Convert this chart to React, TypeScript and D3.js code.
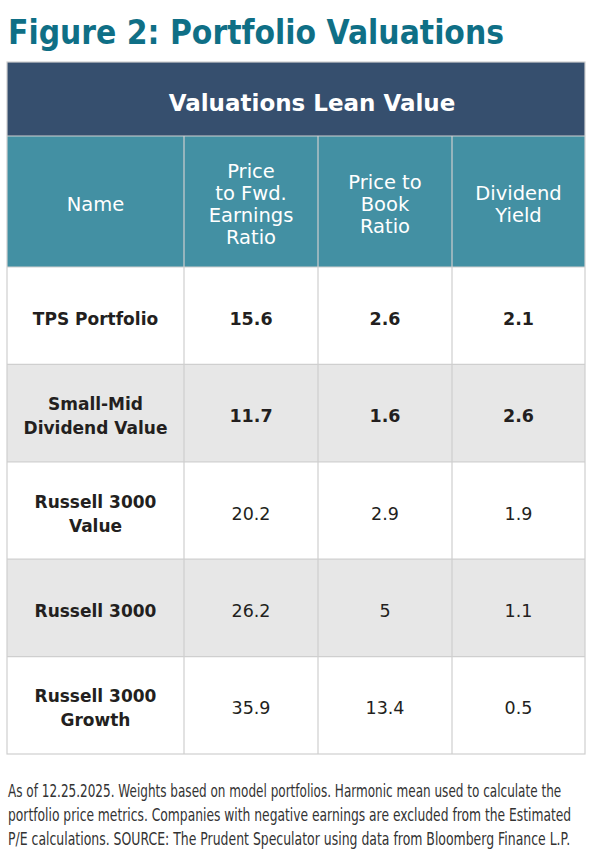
import React, { useLayoutEffect, useRef, useState } from "react";
import * as d3 from "d3";

const title = "Figure 2: Portfolio Valuations";
const tableTitle = "Valuations Lean Value";
const columnHeaders = [
  ["Name"],
  ["Price", "to Fwd.", "Earnings", "Ratio"],
  ["Price to", "Book", "Ratio"],
  ["Dividend", "Yield"],
];
const names = [
  ["TPS Portfolio"],
  ["Small-Mid", "Dividend Value"],
  ["Russell 3000", "Value"],
  ["Russell 3000"],
  ["Russell 3000", "Growth"],
];
const peRatio = ["15.6", "11.7", "20.2", "26.2", "35.9"];
const pbRatio = ["2.6", "1.6", "2.9", "5", "13.4"];
const divYield = ["2.1", "2.6", "1.9", "1.1", "0.5"];
const boldRows = [true, true, false, false, false];
const footnote = [
  "As of 12.25.2025. Weights based on model portfolios. Harmonic mean used to calculate the",
  "portfolio price metrics. Companies with negative earnings are excluded from the Estimated",
  "P/E calculations. SOURCE: The Prudent Speculator using data from Bloomberg Finance L.P.",
];
const footnoteWidths = [553, 563, 562];

const W = 592;
const H = 856;
const FONT = "'DejaVu Sans', 'Open Sans', sans-serif";
const colEdges = [7, 184, 318, 452, 585];
const tableTop = 62;
const darkBottom = 136;
const headBottom = 267;
const tableBottom = 754;
const border = "#cfcfcf";

export default function App() {
  const footRefs = useRef<(SVGTextElement | null)[]>([]);
  const [footScale, setFootScale] = useState<number[]>([0.6, 0.6, 0.6]);

  useLayoutEffect(() => {
    const s = footRefs.current.map((el, k) => {
      if (!el) return 0.6;
      const w = el.getComputedTextLength();
      return w > 0 ? footnoteWidths[k] / w : 0.6;
    });
    setFootScale(s);
  }, []);

  const rows = names.map((n, i) => ({
    name: n,
    values: [peRatio[i], pbRatio[i], divYield[i]],
    bold: boldRows[i],
    i,
  }));
  const y = d3
    .scaleBand<number>()
    .domain(rows.map((r) => r.i))
    .range([headBottom, tableBottom]);
  const colCenter = (c: number) => (colEdges[c] + colEdges[c + 1]) / 2;
  const headLine = 22;
  const headMid = (darkBottom + headBottom) / 2 + 2;

  return (
    <svg
      width={W}
      height={H}
      style={{ position: "absolute", left: 0, top: 0, background: "#fff" }}
    >
      <rect x={0} y={0} width={W} height={H} fill="#fff" />
      <text
        x={8}
        y={44}
        fontFamily={FONT}
        fontWeight={700}
        fontSize={33}
        fill="#0f6f86"
        textLength={496}
        lengthAdjust="spacingAndGlyphs"
      >
        {title}
      </text>

      {/* dark header */}
      <rect
        x={colEdges[0]}
        y={tableTop}
        width={colEdges[4] - colEdges[0]}
        height={darkBottom - tableTop}
        fill="#364f6e"
      />
      <text
        x={(colEdges[0] + colEdges[4]) / 2 + 16}
        y={111}
        textAnchor="middle"
        fontFamily={FONT}
        fontWeight={700}
        fontSize={23}
        fill="#fff"
      >
        {tableTitle}
      </text>

      {/* teal header */}
      <rect
        x={colEdges[0]}
        y={darkBottom}
        width={colEdges[4] - colEdges[0]}
        height={headBottom - darkBottom}
        fill="#4390a3"
      />
      {columnHeaders.map((lines, c) => (
        <text
          key={c}
          textAnchor="middle"
          fontFamily={FONT}
          fontSize={19.5}
          fill="#fff"
        >
          {lines.map((l, k) => (
            <tspan
              key={k}
              x={colCenter(c)}
              y={headMid + (k - (lines.length - 1) / 2) * headLine + 7}
            >
              {l}
            </tspan>
          ))}
        </text>
      ))}

      {/* body rows */}
      {rows.map((r) => {
        const y0 = y(r.i)!;
        const mid = y0 + y.bandwidth() / 2 + 3;
        return (
          <g key={r.i}>
            <rect
              x={colEdges[0]}
              y={y0}
              width={colEdges[4] - colEdges[0]}
              height={y.bandwidth()}
              fill={r.i % 2 === 1 ? "#e7e7e7" : "#ffffff"}
            />
            <text
              textAnchor="middle"
              fontFamily={FONT}
              fontWeight={700}
              fontSize={17}
              fill="#231f20"
            >
              {r.name.map((l, k) => (
                <tspan
                  key={k}
                  x={colCenter(0)}
                  y={mid + (k - (r.name.length - 1) / 2) * 24 + 6}
                >
                  {l}
                </tspan>
              ))}
            </text>
            {r.values.map((v, c) => (
              <text
                key={c}
                x={colCenter(c + 1)}
                y={mid + 6}
                textAnchor="middle"
                fontFamily={FONT}
                fontWeight={r.bold ? 700 : 400}
                fontSize={17.5}
                fill="#231f20"
              >
                {v}
              </text>
            ))}
          </g>
        );
      })}

      {/* grid lines */}
      {rows.map((r) => (
        <line
          key={"h" + r.i}
          x1={colEdges[0]}
          x2={colEdges[4]}
          y1={y(r.i)!}
          y2={y(r.i)!}
          stroke={border}
          strokeWidth={1.2}
        />
      ))}
      <line
        x1={colEdges[0]}
        x2={colEdges[4]}
        y1={darkBottom}
        y2={darkBottom}
        stroke={border}
        strokeWidth={1.2}
      />
      {colEdges.slice(1, 4).map((x, k) => (
        <line
          key={"v" + k}
          x1={x}
          x2={x}
          y1={darkBottom}
          y2={tableBottom}
          stroke={border}
          strokeWidth={1.2}
        />
      ))}
      <rect
        x={colEdges[0]}
        y={tableTop}
        width={colEdges[4] - colEdges[0]}
        height={tableBottom - tableTop}
        fill="none"
        stroke={border}
        strokeWidth={1.2}
      />

      {/* footnote */}
      {footnote.map((l, k) => (
        <g key={k} transform={`translate(8,${797 + k * 24}) scale(${footScale[k]},1)`}>
          <text
            ref={(el) => {
              footRefs.current[k] = el;
            }}
            x={0}
            y={0}
            fontFamily={FONT}
            fontSize={17}
            fill="#333333"
          >
            {l}
          </text>
        </g>
      ))}
    </svg>
  );
}
